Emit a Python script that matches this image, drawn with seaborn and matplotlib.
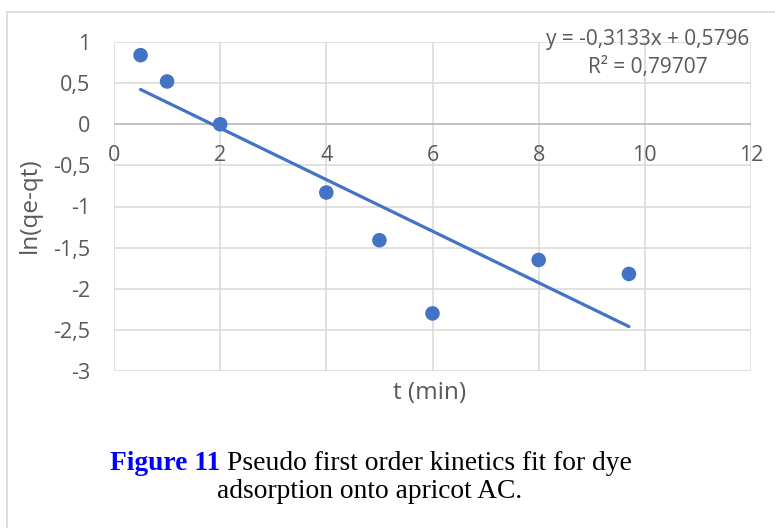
import numpy as np
import pandas as pd
import matplotlib
matplotlib.use("Agg")
import matplotlib.pyplot as plt
from matplotlib.patches import Rectangle
import seaborn as sns

# Kinetics data: time (min) vs ln(qe - qt)
t_min = [0.5, 1, 2, 4, 5, 6, 8, 9.7]
ln_qe_qt = [0.84, 0.52, 0.0, -0.83, -1.41, -2.30, -1.65, -1.82]

# Linear trendline as reported
slope = -0.3133
intercept = 0.5796
r_squared = 0.79707

x_ticks = [0, 2, 4, 6, 8, 10, 12]
y_ticks = [1, 0.5, 0, -0.5, -1, -1.5, -2, -2.5, -3]

BLUE = "#4472C4"
TEXT = "#595959"
GRID = "#d9d9d9"

sns.set_theme(style="white")
plt.rcParams["font.family"] = ["Open Sans", "DejaVu Sans"]

W, H = 775, 528
fig = plt.figure(figsize=(W / 100, H / 100), dpi=100)
ax = fig.add_axes([114 / W, 1 - 371 / H, (751 - 114) / W, (371 - 42) / H])

df = pd.DataFrame({"t": t_min, "y": ln_qe_qt})
fit_x = np.array([min(t_min), max(t_min)])
fit = pd.DataFrame({"t": fit_x, "y": slope * fit_x + intercept})

sns.lineplot(data=fit, x="t", y="y", ax=ax, color=BLUE, linewidth=2.3, zorder=3)
sns.scatterplot(data=df, x="t", y="y", ax=ax, color=BLUE, s=110,
                edgecolor="none", zorder=4)

ax.set_xlim(0, 12)
ax.set_ylim(-3, 1)
ax.set_xticks(x_ticks)
ax.set_yticks(y_ticks)
ax.grid(True, color=GRID, linewidth=1.1)
ax.set_axisbelow(True)
for side in ["top", "right", "left", "bottom"]:
    ax.spines[side].set_visible(False)
ax.axhline(0, color="#bfbfbf", linewidth=1.3, zorder=2)

fmt = lambda v: (f"{v:g}").replace(".", ",")
ax.set_yticklabels([fmt(v) for v in y_ticks], color=TEXT, fontsize=15.5)
ax.tick_params(axis="y", length=0, pad=17)
ax.set_xticklabels([])
ax.tick_params(axis="x", length=0)
for v in x_ticks:
    ax.text(v, -0.38, fmt(v), ha="center", va="center", color=TEXT,
            fontsize=15.5, zorder=5)

ax.set_xlabel("")
ax.set_ylabel("")
fig.text(430 / W, 1 - 393 / H, "t (min)", ha="center", va="center",
         color=TEXT, fontsize=17.5)
fig.text(30 / W, 1 - 205 / H, "ln(qe-qt)", ha="center", va="center",
         rotation=90, color=TEXT, fontsize=17.5)

eq = f"y = {fmt(slope)}x + {fmt(intercept)}"
fig.text(648 / W, 1 - 40 / H, eq, ha="center", va="center", color=TEXT,
         fontsize=15)
fig.text(648 / W, 1 - 68 / H, f"R² = {fmt(r_squared)}", ha="center",
         va="center", color=TEXT, fontsize=15)

# Chart frame
fig.patches.append(Rectangle((7 / W, -0.05), 1.1, 1 - 12 / H + 0.05,
                             transform=fig.transFigure, fill=False,
                             edgecolor=GRID, linewidth=1.2))

# Caption
serif = ["Liberation Serif", "DejaVu Serif"]
t1 = fig.text(110 / W, 1 - 463 / H, "Figure 11", ha="left", va="center",
              color="#0000FF", fontweight="bold", fontsize=19.8, family=serif)
fig.canvas.draw()
bb = t1.get_window_extent()
fig.text(bb.x1 / W + 7 / W, 1 - 463 / H,
         "Pseudo first order kinetics fit for dye", ha="left", va="center",
         color="black", fontsize=19.8, family=serif)
fig.text(370 / W, 1 - 492 / H, "adsorption onto apricot AC.", ha="center",
         va="center", color="black", fontsize=19.8, family=serif)

fig.savefig("out.png", dpi=100)
